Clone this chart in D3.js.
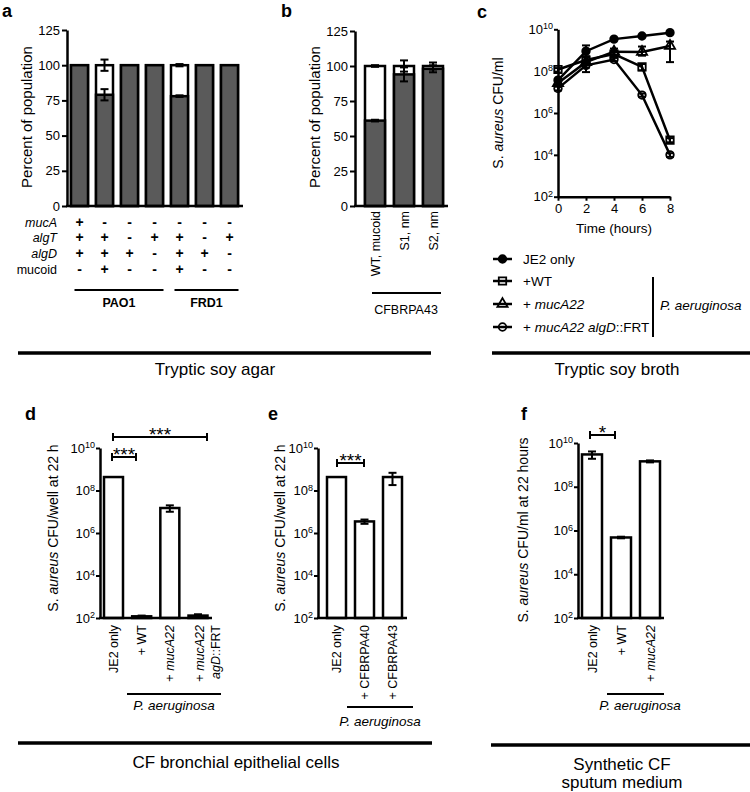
<!DOCTYPE html>
<html><head><meta charset="utf-8">
<script src="https://cdn.jsdelivr.net/npm/d3@7"></script>
<style>
body{margin:0;background:#fff}
svg{display:block}
text{font-family:"Liberation Sans",Arial,Helvetica,sans-serif;fill:#000}
</style>
</head><body>
<svg id="chart" width="750" height="792"></svg>
<script>
// ---------------- DATA ----------------
// Panel a (percent of population; dark = non-mucoid share)
const aBars = ["1","2","3","4","5","6","7"];
const aNonmucoid = [100, 79, 100, 100, 78, 100, 100];
const aNonmucoidErr = [0, 4, 0, 0, 0.6, 0, 0];
const aTotalErr = [0, 4, 0, 0, 0.8, 0, 0];
const aRowLabels = ["mucA", "algT", "algD", "mucoid"];
const aRowItalic = [true, true, true, false];
const aTable = [
  ["+","-","-","-","-","-","-"],
  ["+","+","-","+","+","-","+"],
  ["+","+","+","-","+","+","-"],
  ["-","+","-","-","+","-","-"]
];
const aStrains = [{name:"PAO1", first:"1", last:"4"}, {name:"FRD1", first:"5", last:"7"}];
const percentTicks = [0, 25, 50, 75, 100, 125];

// Panel b
const bCats = ["WT, mucoid", "S1, nm", "S2, nm"];
const bNonmucoid = [61, 94, 98];
const bNonmucoidErr = [0.6, 5, 2.5];
const bTotalErr = [0.6, 4, 2.5];
const bStrain = "CFBRPA43";

// Panel c (S. aureus CFU/ml over time)
const cTimes = [0, 2, 4, 6, 8];
const cJE2      = [3.7e7, 9e8,   3.4e9, 4.8e9, 6.9e9];
const cJE2Lo    = [3.2e7, 5e8,   3.0e9, 4.5e9, 6.5e9];
const cJE2Hi    = [4.2e7, 1.7e9, 3.8e9, 5.1e9, 7.3e9];
const cWT       = [1.2e8, 3.4e8, 6.6e8, 1.6e8, 5e4];
const cWTLo     = [8.5e7, 2.5e8, 5e8,   1.1e8, 4e4];
const cWTHi     = [1.4e8, 4.5e8, 8.5e8, 2.2e8, 6.3e4];
const cMuc      = [2.7e7, 2.7e8, 8.5e8, 8.3e8, 1.6e9];
const cMucLo    = [2.2e7, 9e7,   5.5e8, 5.5e8, 2.7e8];
const cMucHi    = [3.2e7, 5e8,   1.2e9, 1.5e9, 2.6e9];
const cMucAlg   = [1.5e7, 1.9e8, 3.6e8, 7.2e6, 1e4];
const cMucAlgLo = [1.2e7, 1.5e8, 3e8,   6e6,   8e3];
const cMucAlgHi = [1.8e7, 2.4e8, 4.3e8, 8.5e6, 1.2e4];
const cTimeTicks = [0, 2, 4, 6, 8];
const logTicks = [1e2, 1e4, 1e6, 1e8, 1e10];

// Panel d
const dCats = ["JE2 only", "+ WT", "+ mucA22", "+ mucA22 agD::FRT"];
const dVals = [4.3e8, 1.2e2, 1.5e7, 1.3e2];
const dErr  = [0, 0.1e2, 0.5e7, 0.2e2];
// Panel e
const eCats = ["JE2 only", "+ CFBRPA40", "+ CFBRPA43"];
const eVals = [4.3e8, 3.5e6, 4.3e8];
const eErr  = [0, 0.8e6, 2.5e8];
// Panel f
const fCats = ["JE2 only", "+ WT", "+ mucA22"];
const fVals = [3e9, 4.8e5, 1.45e9];
const fErr  = [1.1e9, 0.4e5, 1.5e8];

// ---------------- DRAWING ----------------
const svg = d3.select("#chart");
const DARK = "#5a5a5a";
const SW = 2.5;

function styleAxis(g, fs){
  g.select(".domain").attr("stroke","#000").attr("stroke-width",SW);
  g.selectAll(".tick line").attr("stroke","#000").attr("stroke-width",2);
  g.selectAll(".tick text").attr("font-size",fs||13).attr("fill","#000")
    .attr("font-family",'"Liberation Sans",Arial,sans-serif');
}
function logLabels(g){
  g.selectAll(".tick text").each(function(d){
    const t = d3.select(this);
    const e = Math.round(Math.log10(d));
    t.text(null);
    t.append("tspan").text("10");
    t.append("tspan").attr("dy","-0.5em").attr("font-size",9).text(e);
  });
}
function rich(sel, parts){
  parts.forEach(p=>{
    sel.append("tspan").attr("font-style", p[1] ? "italic" : "normal").text(p[0]);
  });
  return sel;
}
function hline(x1,x2,y,w){
  svg.append("line").attr("x1",x1).attr("x2",x2).attr("y1",y).attr("y2",y)
    .attr("stroke","#000").attr("stroke-width",w);
}
function vline(x,y1,y2,w){
  svg.append("line").attr("x1",x).attr("x2",x).attr("y1",y1).attr("y2",y2)
    .attr("stroke","#000").attr("stroke-width",w);
}
function errBar(x, yLo, yHi, cap){
  const c = cap || 4;
  vline(x, yLo, yHi, 2);
  hline(x-c, x+c, yLo, 2);
  hline(x-c, x+c, yHi, 2);
}
function panelLetter(t, x, y){
  svg.append("text").attr("x",x).attr("y",y).attr("font-size",18).attr("font-weight","bold").text(t);
}
function yLabel(cx, cy, parts, fs){
  const t = svg.append("text").attr("transform",`translate(${cx},${cy}) rotate(-90)`)
    .attr("text-anchor","middle").attr("font-size",fs);
  rich(t, parts);
}
function rotLabel(x, yTop, parts, fs){
  const t = svg.append("text").attr("transform",`translate(${x},${yTop}) rotate(-90)`)
    .attr("text-anchor","end").attr("font-size",fs||12.5);
  rich(t, parts);
}
function labelParts(s){
  const m = s.match(/^(\+ )(mucA22)$/);
  if (m) return [[m[1],false],[m[2],true]];
  return [[s,false]];
}

// ===== Panel a =====
panelLetter("a", 2, 17);
const aY = d3.scaleLinear().domain([0,125]).range([206,30]);
const aX = d3.scalePoint().domain(aBars).range([79.5,229.5]);
const aW = 17;
aBars.forEach((b,i)=>{
  const x = aX(b) - aW/2;
  svg.append("rect").attr("x",x).attr("y",aY(100)).attr("width",aW).attr("height",aY(0)-aY(100))
    .attr("fill","#fff").attr("stroke","#000").attr("stroke-width",SW);
  svg.append("rect").attr("x",x).attr("y",aY(aNonmucoid[i])).attr("width",aW).attr("height",aY(0)-aY(aNonmucoid[i]))
    .attr("fill",DARK).attr("stroke","#000").attr("stroke-width",SW);
  if (aTotalErr[i]>0) errBar(aX(b), aY(100-aTotalErr[i]), aY(100+aTotalErr[i]));
  if (aNonmucoidErr[i]>0 && aNonmucoid[i]<100) errBar(aX(b), aY(aNonmucoid[i]-aNonmucoidErr[i]), aY(aNonmucoid[i]+aNonmucoidErr[i]));
});
const aAx = svg.append("g").attr("transform","translate(67,0)")
  .call(d3.axisLeft(aY).tickValues(percentTicks).tickSize(5).tickPadding(2).tickSizeOuter(0));
styleAxis(aAx, 13);
hline(66, 243, aY(0), SW);
yLabel(32, 117, [["Percent of population",false]], 15);
const rowY = [226.5, 242, 258, 274];
aRowLabels.forEach((r,ri)=>{
  svg.append("text").attr("x",57).attr("y",rowY[ri]).attr("text-anchor","end").attr("font-size",12.5)
    .attr("font-style", aRowItalic[ri] ? "italic" : "normal").text(r);
  aTable[ri].forEach((s,ci)=>{
    svg.append("text").attr("x",aX(aBars[ci])).attr("y",rowY[ri]).attr("text-anchor","middle")
      .attr("font-size",14).attr("font-weight","bold").text(s);
  });
});
aStrains.forEach(s=>{
  const x1 = aX(s.first)-5, x2 = aX(s.last)+9;
  hline(x1, x2, 290, 2);
  svg.append("text").attr("x",(x1+x2)/2).attr("y",306.5).attr("text-anchor","middle")
    .attr("font-size",12.5).attr("font-weight","bold").text(s.name);
});

// ===== Panel b =====
panelLetter("b", 281, 17);
const bY = d3.scaleLinear().domain([0,125]).range([206,31]);
const bX = d3.scalePoint().domain(bCats).range([375,433]);
const bW = 20;
bCats.forEach((c,i)=>{
  const x = bX(c)-bW/2;
  svg.append("rect").attr("x",x).attr("y",bY(100)).attr("width",bW).attr("height",bY(0)-bY(100))
    .attr("fill","#fff").attr("stroke","#000").attr("stroke-width",SW);
  svg.append("rect").attr("x",x).attr("y",bY(bNonmucoid[i])).attr("width",bW).attr("height",bY(0)-bY(bNonmucoid[i]))
    .attr("fill",DARK).attr("stroke","#000").attr("stroke-width",SW);
  errBar(bX(c), bY(100-bTotalErr[i]), bY(100+bTotalErr[i]));
  errBar(bX(c), bY(bNonmucoid[i]-bNonmucoidErr[i]), bY(bNonmucoid[i]+bNonmucoidErr[i]));
  rotLabel(bX(c)+4.5, 211, [[c,false]], 12.5);
});
const bAx = svg.append("g").attr("transform","translate(355,0)")
  .call(d3.axisLeft(bY).tickValues(percentTicks).tickSize(5).tickPadding(2).tickSizeOuter(0));
styleAxis(bAx, 13);
hline(354, 448, bY(0), SW);
yLabel(320, 117, [["Percent of population",false]], 15);
hline(372, 441, 293, 2);
svg.append("text").attr("x",406).attr("y",313.5).attr("text-anchor","middle").attr("font-size",12.5).text(bStrain);
hline(18, 431, 353, 3.5);
svg.append("text").attr("x",215).attr("y",374.5).attr("text-anchor","middle").attr("font-size",17).text("Tryptic soy agar");

// ===== Panel c =====
panelLetter("c", 477, 18);
const cX = d3.scaleLinear().domain([0,8]).range([558,670]);
const cY = d3.scaleLog().domain([1e2,1e10]).range([196.7,29.3]);
const cyAx = svg.append("g").attr("transform","translate(558,0)")
  .call(d3.axisLeft(cY).tickValues(logTicks).tickSize(4).tickPadding(1).tickSizeOuter(0));
styleAxis(cyAx, 13); logLabels(cyAx);
const cxAx = svg.append("g").attr("transform","translate(0,196.7)")
  .call(d3.axisBottom(cX).tickValues(cTimeTicks).tickSize(4).tickPadding(3).tickSizeOuter(0));
styleAxis(cxAx, 13);
svg.append("text").attr("x",614).attr("y",233).attr("text-anchor","middle").attr("font-size",13.5).text("Time (hours)");
yLabel(503, 113, [["S. ",false],["aureus",true],[" CFU/ml",false]], 14);

const cSeries = [
  {name:[["JE2 only",false]], v:cJE2, lo:cJE2Lo, hi:cJE2Hi, sym:d3.symbolCircle, size:45, fill:"#000"},
  {name:[["+WT",false]], v:cWT, lo:cWTLo, hi:cWTHi, sym:d3.symbolSquare, size:55, fill:"none"},
  {name:[["+ ",false],["mucA22",true]], v:cMuc, lo:cMucLo, hi:cMucHi, sym:d3.symbolTriangle, size:45, fill:"none"},
  {name:[["+ ",false],["mucA22 algD",true],["::FRT",false]], v:cMucAlg, lo:cMucAlgLo, hi:cMucAlgHi, sym:d3.symbolCircle, size:45, fill:"none"}
];
const line = d3.line().x((d,i)=>cX(cTimes[i])).y(d=>cY(d));
cSeries.forEach(s=>{
  s.v.forEach((v,i)=>errBar(cX(cTimes[i]), cY(s.lo[i]), cY(s.hi[i]), 4));
  svg.append("path").attr("d",line(s.v)).attr("fill","none").attr("stroke","#000").attr("stroke-width",SW);
});
cSeries.forEach(s=>{
  s.v.forEach((v,i)=>{
    svg.append("path").attr("d",d3.symbol().type(s.sym).size(s.size)())
      .attr("transform",`translate(${cX(cTimes[i])},${cY(v)})`)
      .attr("fill",s.fill).attr("stroke","#000").attr("stroke-width",1.8);
  });
});
const legY = [259, 281, 304, 327];
cSeries.forEach((s,i)=>{
  hline(493, 512, legY[i], SW);
  svg.append("path").attr("d",d3.symbol().type(s.sym).size(s.size)())
    .attr("transform",`translate(502.5,${legY[i]})`)
    .attr("fill",s.fill).attr("stroke","#000").attr("stroke-width",1.8);
  const t = svg.append("text").attr("x",523).attr("y",legY[i]+5).attr("font-size",13.5);
  rich(t, s.name);
});
vline(653, 277, 337, 2);
svg.append("text").attr("x",660).attr("y",310).attr("font-size",13.5).attr("font-style","italic").text("P. aeruginosa");
hline(492, 750, 353, 3.5);
svg.append("text").attr("x",617).attr("y",375).attr("text-anchor","middle").attr("font-size",17).text("Tryptic soy broth");

// ===== Bar panels d, e, f =====
function logBarPanel(o){
  const y = d3.scaleLog().domain([1e2,1e10]).range([618,o.top]);
  const x = d3.scalePoint().domain(o.cats).range(o.xr);
  o.cats.forEach((c,i)=>{
    svg.append("rect").attr("x",x(c)-o.bw/2).attr("y",y(o.vals[i])).attr("width",o.bw)
      .attr("height",y(1e2)-y(o.vals[i]))
      .attr("fill","#fff").attr("stroke","#000").attr("stroke-width",SW);
    if (o.err[i]>0) errBar(x(c), y(Math.max(o.vals[i]-o.err[i],1e2)), y(o.vals[i]+o.err[i]), 4);
  });
  const ax = svg.append("g").attr("transform",`translate(${o.ax},0)`)
    .call(d3.axisLeft(y).tickValues(logTicks).tickSize(4).tickPadding(1).tickSizeOuter(0));
  styleAxis(ax, 13); logLabels(ax);
  hline(o.ax-1, o.axEnd, y(1e2), SW);
  return {x, y};
}
function bracket(x1, x2, yy, stars){
  hline(x1, x2, yy, 2);
  vline(x1, yy-4, yy+4, 2);
  vline(x2, yy-4, yy+4, 2);
  svg.append("text").attr("x",(x1+x2)/2).attr("y",yy+4).attr("text-anchor","middle")
    .attr("font-size",19).text(stars);
}

// d
panelLetter("d", 25, 420);
const dP = logBarPanel({cats:dCats, vals:dVals, err:dErr, xr:[113.5,198], bw:19, ax:100, axEnd:212, top:448});
yLabel(58, 528, [["S. ",false],["aureus",true],[" CFU/well at 22 h",false]], 14);
dCats.forEach((c,i)=>{
  if (i===3){
    rotLabel(dP.x(c)+6, 625, [["+ ",false],["mucA22",true]], 12.5);
    rotLabel(dP.x(c)+21.5, 625, [["agD",true],["::FRT",false]], 12.5);
  } else {
    rotLabel(dP.x(c)+4.5, 625, labelParts(c), 12.5);
  }
});
bracket(112, 136, 457, "***");
bracket(113, 207, 437, "***");
hline(127, 221, 694, 2);
svg.append("text").attr("x",174).attr("y",710).attr("text-anchor","middle").attr("font-size",13.5).attr("font-style","italic").text("P. aeruginosa");

// e
panelLetter("e", 268, 420);
const eP = logBarPanel({cats:eCats, vals:eVals, err:eErr, xr:[336.5,392.5], bw:19, ax:318, axEnd:407, top:448});
yLabel(285, 528, [["S. ",false],["aureus",true],[" CFU/well at 22 h",false]], 14);
eCats.forEach(c=>rotLabel(eP.x(c)+4.5, 625, labelParts(c), 12.5));
bracket(337, 364, 463, "***");
hline(347, 413, 707, 2);
svg.append("text").attr("x",380).attr("y",726).attr("text-anchor","middle").attr("font-size",13.5).attr("font-style","italic").text("P. aeruginosa");
hline(18, 432, 743, 3.5);
svg.append("text").attr("x",236).attr("y",768).attr("text-anchor","middle").attr("font-size",17).text("CF bronchial epithelial cells");

// f
panelLetter("f", 521, 420);
const fP = logBarPanel({cats:fCats, vals:fVals, err:fErr, xr:[592,650], bw:20, ax:578, axEnd:664, top:443});
yLabel(528, 530, [["S. ",false],["aureus",true],[" CFU/ml at 22 hours",false]], 14);
fCats.forEach(c=>rotLabel(fP.x(c)+4.5, 625, labelParts(c), 12.5));
bracket(590, 615, 435, "*");
hline(607, 664, 694, 2);
svg.append("text").attr("x",640).attr("y",710).attr("text-anchor","middle").attr("font-size",13.5).attr("font-style","italic").text("P. aeruginosa");
hline(491, 750, 745, 3.5);
svg.append("text").attr("x",622).attr("y",770).attr("text-anchor","middle").attr("font-size",17).text("Synthetic CF");
svg.append("text").attr("x",622).attr("y",788).attr("text-anchor","middle").attr("font-size",17).text("sputum medium");
</script>
</body></html>
